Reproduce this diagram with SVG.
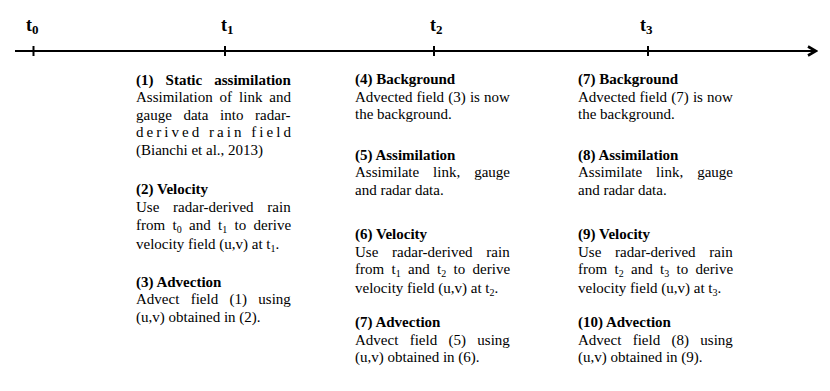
<svg xmlns="http://www.w3.org/2000/svg" width="830" height="391" viewBox="0 0 830 391">
<defs>
<style>
text{font-family:"Liberation Serif","Times New Roman",serif;font-size:15px;fill:#000}
.b{font-weight:bold}
.tl{font-weight:bold;font-size:18px}
.tls{font-size:13px}
.s{font-size:10px}
.axis{stroke:#000;stroke-width:2;fill:none}
.tick{stroke:#000;stroke-width:2}
</style>
<marker id="arr" viewBox="0 0 12 12" refX="10" refY="6" markerWidth="6" markerHeight="6" markerUnits="strokeWidth" orient="auto">
<path d="M2,1.5 L10,6 L2,10.5" fill="none" stroke="#000" stroke-width="2.6"/>
</marker>
</defs>
<rect width="830" height="391" fill="#fff"/>
<g id="connectors">
<line class="axis" x1="15" y1="51" x2="816" y2="51" marker-end="url(#arr)"/>
</g>
<g id="t0">
<line class="tick" x1="33.5" y1="46" x2="33.5" y2="56"/>
<text class="tl" x="26" y="31">t<tspan class="tls" dy="3">0</tspan></text>
</g>
<g id="t1">
<line class="tick" x1="225" y1="46" x2="225" y2="56"/>
<text class="tl" x="221" y="31">t<tspan class="tls" dy="3">1</tspan></text>
</g>
<g id="t2">
<line class="tick" x1="434" y1="46" x2="434" y2="56"/>
<text class="tl" x="430" y="31">t<tspan class="tls" dy="3">2</tspan></text>
</g>
<g id="t3">
<line class="tick" x1="648" y1="46" x2="648" y2="56"/>
<text class="tl" x="640" y="31">t<tspan class="tls" dy="3">3</tspan></text>
</g>

<g id="step1">
<text class="b" x="136" y="84.5" word-spacing="8.3">(1) Static assimilation</text>
<text x="136" y="102" word-spacing="3.2">Assimilation of link and</text>
<text x="136" y="119.5" word-spacing="7.9">gauge data into radar-</text>
<text x="136" y="137" textLength="155" lengthAdjust="spacing">derived rain field</text>
<text x="136" y="154.5">(Bianchi et al., 2013)</text>
</g>
<g id="step2">
<text class="b" x="136" y="193.5">(2) Velocity</text>
<text x="136" y="211.5" word-spacing="10">Use radar-derived rain</text>
<text x="136" y="229.5" word-spacing="3.6">from t<tspan class="s" dy="3">0</tspan><tspan dy="-3"> and t</tspan><tspan class="s" dy="3">1</tspan><tspan dy="-3"> to derive</tspan></text>
<text x="136" y="249">velocity field (u,v) at t<tspan class="s" dy="3">1</tspan><tspan dy="-3">.</tspan></text>
</g>
<g id="step3">
<text class="b" x="136" y="286.5">(3) Advection</text>
<text x="136" y="304" word-spacing="7.6">Advect field (1) using</text>
<text x="136" y="321.5">(u,v) obtained in (2).</text>
</g>

<g id="step4">
<text class="b" x="355" y="84">(4) Background</text>
<text x="355" y="101.5" word-spacing="0.4">Advected field (3) is now</text>
<text x="355" y="119">the background.</text>
</g>
<g id="step5">
<text class="b" x="355" y="159.5">(5) Assimilation</text>
<text x="355" y="177" word-spacing="10.2">Assimilate link, gauge</text>
<text x="355" y="194.5">and radar data.</text>
</g>
<g id="step6">
<text class="b" x="355" y="239">(6) Velocity</text>
<text x="355" y="256.5" word-spacing="10">Use radar-derived rain</text>
<text x="355" y="274" word-spacing="3.6">from t<tspan class="s" dy="3">1</tspan><tspan dy="-3"> and t</tspan><tspan class="s" dy="3">2</tspan><tspan dy="-3"> to derive</tspan></text>
<text x="355" y="293">velocity field (u,v) at t<tspan class="s" dy="3">2</tspan><tspan dy="-3">.</tspan></text>
</g>
<g id="step7">
<text class="b" x="355" y="327">(7) Advection</text>
<text x="355" y="344.5" word-spacing="7.6">Advect field (5) using</text>
<text x="355" y="362">(u,v) obtained in (6).</text>
</g>

<g id="step7b">
<text class="b" x="578" y="84">(7) Background</text>
<text x="578" y="101.5" word-spacing="0.4">Advected field (7) is now</text>
<text x="578" y="119">the background.</text>
</g>
<g id="step8">
<text class="b" x="578" y="159.5">(8) Assimilation</text>
<text x="578" y="177" word-spacing="10.2">Assimilate link, gauge</text>
<text x="578" y="194.5">and radar data.</text>
</g>
<g id="step9">
<text class="b" x="578" y="239">(9) Velocity</text>
<text x="578" y="256.5" word-spacing="10">Use radar-derived rain</text>
<text x="578" y="274" word-spacing="3.6">from t<tspan class="s" dy="3">2</tspan><tspan dy="-3"> and t</tspan><tspan class="s" dy="3">3</tspan><tspan dy="-3"> to derive</tspan></text>
<text x="578" y="293">velocity field (u,v) at t<tspan class="s" dy="3">3</tspan><tspan dy="-3">.</tspan></text>
</g>
<g id="step10">
<text class="b" x="578" y="327">(10) Advection</text>
<text x="578" y="344.5" word-spacing="7.6">Advect field (8) using</text>
<text x="578" y="362">(u,v) obtained in (9).</text>
</g>
</svg>
